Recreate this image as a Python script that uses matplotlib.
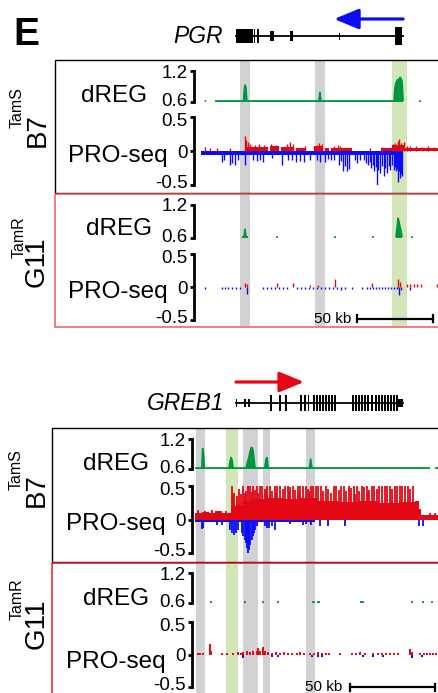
import numpy as np
import matplotlib.pyplot as plt
from matplotlib.transforms import ScaledTranslation

W, H = 439, 693
plt.rcParams['font.family'] = ['Liberation Sans', 'DejaVu Sans']
nan = np.nan

GREEN = '#009640'
RED = '#e30613'
BLUE = '#0b0bf5'
BAND_GRAY = '#d2d2d4'
BAND_GREEN = '#d3e6b9'

# ---------------- PGR locus (kb from left edge of window) ----------------
pgr_xmax = 157.2
pgr_gray = [(26.3, 32.9), (75.7, 82.2)]
pgr_green = [(126.3, 136.2)]
pgr_gene = (23.7, 133.6)
pgr_exons = [(23.7, 34.9), (35.2, 36.2), (37.5, 38.5), (46.1, 48.7),
             (59.2, 60.9), (91.4, 92.1), (128.3, 132.9)]
pgr_exon_kind = ['cds', 'cds', 'cds', 'mid', 'mid', 'small', 'big']
pgr_arrow = (133.6, 88.2)          # tail -> head (minus strand)

pgr_b7_dreg_x = [3.0, 4.0, nan, 9.9, 28.6, 29.2, 29.6, 30.2, 30.8, 78.2, 78.9, 79.6,
                 127.6, 128.3, 129.0, 129.6, 130.3, 131.0, 131.6, 132.3, 132.9, 133.6,
                 nan, 144.3, 145.3]
pgr_b7_dreg_y = [0.62, 0.62, nan, 0.62, 0.62, 0.85, 0.93, 0.88, 0.62, 0.62, 0.79, 0.62,
                 0.62, 0.9, 0.98, 1.02, 1.04, 1.0, 1.08, 1.05, 1.0, 0.62,
                 nan, 0.62, 0.62]
pgr_b7_plus_seg = [(30.9, 45.0, 0.06), (46.0, 52.0, 0.07), (53.0, 62.0, 0.06),
                   (63.0, 70.0, 0.05), (75.0, 80.0, 0.07), (82.0, 85.0, 0.05),
                   (86.0, 92.0, 0.05), (93.0, 100.0, 0.05), (119.0, 126.0, 0.04),
                   (126.3, 134.0, 0.09), (134.0, 157.2, 0.05)]
pgr_b7_plus = [(3.3, 0.06), (6.6, 0.05), (11.2, 0.05), (19.7, 0.05), (29.6, 0.22),
               (30.5, 0.16), (31.5, 0.13), (33.0, 0.1), (36.0, 0.09), (39.0, 0.1),
               (42.0, 0.09), (47.0, 0.1), (50.0, 0.09), (57.0, 0.11), (59.0, 0.13),
               (61.0, 0.1), (69.0, 0.08), (77.0, 0.09), (78.0, 0.12), (80.0, 0.1),
               (88.0, 0.07), (90.5, 0.09), (92.0, 0.08), (112.0, 0.05), (120.0, 0.06),
               (127.0, 0.1), (128.5, 0.12), (130.0, 0.15), (131.2, 0.18), (132.5, 0.12),
               (134.0, 0.13), (136.0, 0.08), (138.0, 0.07), (142.0, 0.07), (146.0, 0.06),
               (150.0, 0.07), (154.0, 0.06)]
pgr_b7_minus_seg = [(0.7, 133.6, -0.065)]
pgr_b7_minus = [(14.5, -0.16), (15.8, -0.13), (19.7, -0.2), (21.1, -0.17), (23.0, -0.2),
                (25.0, -0.13), (29.6, -0.2), (34.9, -0.13), (37.5, -0.14), (39.5, -0.13),
                (41.4, -0.16), (47.4, -0.1), (53.9, -0.2), (57.9, -0.13), (60.5, -0.13),
                (63.2, -0.16), (65.8, -0.14), (68.4, -0.16), (72.4, -0.13), (77.0, -0.13),
                (78.9, -0.16), (82.2, -0.16), (84.5, -0.12), (86.2, -0.13), (88.2, -0.13),
                (91.4, -0.2), (92.5, -0.15), (94.1, -0.3), (95.4, -0.22), (96.7, -0.3),
                (98.0, -0.27), (101.9, -0.13), (103.5, -0.18), (105.3, -0.13), (107.9, -0.13),
                (109.2, -0.18), (110.5, -0.2), (111.5, -0.16), (112.5, -0.25), (113.5, -0.2),
                (114.5, -0.3), (115.5, -0.24), (116.4, -0.52), (117.4, -0.28), (118.4, -0.32),
                (119.6, -0.22), (121.1, -0.37), (122.0, -0.25), (123.0, -0.33), (124.0, -0.22),
                (125.0, -0.28), (126.0, -0.2), (127.6, -0.28), (128.3, -0.24), (128.9, -0.3),
                (129.6, -0.26), (130.3, -0.45), (131.0, -0.3), (131.6, -0.4), (132.3, -0.34),
                (132.9, -0.37)]

pgr_g11_dreg_x = [27.6, 28.9, 29.6, 30.3, 31.6, nan, 50.2, 51.2, nan, 88.3, 89.3, nan,
                  113.3, 114.3, nan, 128.9, 129.6, 130.3, 131.0, 131.6, 132.3, 132.9,
                  nan, 139.0, 140.0]
pgr_g11_dreg_y = [0.62, 0.62, 0.76, 0.62, 0.62, nan, 0.62, 0.62, nan, 0.62, 0.62, nan,
                  0.62, 0.62, nan, 0.62, 0.78, 0.96, 0.88, 0.8, 0.72, 0.62,
                  nan, 0.62, 0.62]
pgr_g11_plus_seg = []
pgr_g11_plus = [(29.6, 0.06), (30.6, 0.05), (50.7, 0.06), (61.2, 0.06), (72.4, 0.03),
                (77.6, 0.03), (88.8, 0.12), (113.2, 0.06), (130.3, 0.12), (131.6, 0.08),
                (136.2, 0.05), (138.2, 0.04), (140.5, 0.05), (143.0, 0.04), (145.4, 0.04),
                (155.9, 0.04)]
pgr_g11_minus_seg = []
pgr_g11_minus = [(3.3, -0.03), (14.5, -0.03), (16.4, -0.03), (18.4, -0.03), (21.0, -0.03),
                 (23.7, -0.03), (26.3, -0.03), (30.9, -0.1), (41.4, -0.03), (44.1, -0.03),
                 (46.7, -0.03), (49.3, -0.03), (52.0, -0.03), (54.6, -0.03), (57.2, -0.03),
                 (63.8, -0.03), (66.4, -0.03), (69.1, -0.03), (71.7, -0.03), (74.3, -0.03),
                 (77.0, -0.03), (79.6, -0.03), (82.2, -0.03), (84.9, -0.03), (87.5, -0.03),
                 (90.1, -0.03), (92.8, -0.05), (95.4, -0.03), (100.0, -0.03), (106.6, -0.03),
                 (109.9, -0.03), (111.8, -0.03), (113.8, -0.03), (115.8, -0.03), (117.8, -0.03),
                 (119.7, -0.03), (121.7, -0.03), (123.7, -0.03), (125.7, -0.03), (127.6, -0.03),
                 (129.6, -0.03), (130.9, -0.12), (132.2, -0.04), (138.2, -0.04)]

# ---------------- GREB1 locus ----------------
grb_xmax = 143.5
grb_gray = [(0.6, 5.9), (28.2, 37.1), (40.0, 44.1), (65.3, 70.6)]
grb_green = [(18.2, 25.3)]
grb_gene = (24.1, 122.4)
grb_exons = [(24.1, 24.7), (29.1, 30.0), (31.2, 32.1), (44.1, 45.3), (49.4, 50.6),
             (52.9, 54.1), (61.8, 62.9), (64.1, 65.3), (66.2, 67.1), (69.4, 70.6),
             (71.2, 72.4), (72.9, 74.1), (74.7, 75.9), (76.5, 77.6), (78.2, 79.4),
             (80.0, 81.2), (81.8, 82.9), (92.4, 93.5), (94.1, 95.3), (95.9, 97.1),
             (97.6, 98.8), (99.4, 100.6), (101.2, 102.4), (103.5, 104.7), (105.9, 107.1),
             (107.6, 108.8), (109.4, 110.6), (111.2, 112.4), (112.9, 114.1), (114.7, 115.9),
             (116.5, 117.6), (118.2, 119.4), (119.4, 122.4)]
grb_exon_kind = ['utr', 'utr', 'utr'] + ['cds'] * 29 + ['utr']
grb_arrow = (24.1, 64.1)           # tail -> head (plus strand)

grb_b7_dreg_x = [0.0, 4.0, 4.5, 5.0, 5.6, 20.0, 20.6, 21.2, 21.8, 22.4, 30.0, 30.6, 31.2,
                 31.8, 32.4, 33.0, 33.5, 34.1, 34.7, 35.3, 41.0, 41.8, 42.4, 43.0, 67.3,
                 68.0, 68.8, 138.2, nan, 141.2, 143.5]
grb_b7_dreg_y = [0.62, 0.62, 1.01, 0.9, 0.62, 0.62, 0.75, 0.83, 0.78, 0.62, 0.62, 0.7, 0.78,
                 0.85, 0.95, 1.02, 1.03, 0.98, 0.8, 0.62, 0.62, 0.8, 0.83, 0.62, 0.62,
                 0.8, 0.62, 0.62, nan, 0.62, 0.62]
grb_b7_plus_seg = [(0.0, 4.0, 0.09), (4.0, 8.0, 0.11), (8.0, 12.0, 0.1), (12.0, 16.0, 0.12),
                   (16.0, 21.2, 0.1), (21.2, 24.0, 0.2), (24.0, 28.0, 0.22), (28.0, 34.0, 0.27),
                   (34.0, 42.0, 0.3), (42.0, 52.0, 0.32), (52.0, 62.0, 0.3), (62.0, 72.0, 0.32),
                   (72.0, 84.0, 0.28), (84.0, 96.0, 0.26), (96.0, 108.0, 0.27),
                   (108.0, 120.0, 0.25), (120.0, 129.4, 0.26), (129.4, 131.8, 0.28),
                   (131.8, 133.0, 0.16), (133.0, 143.5, 0.07)]
grb_b7_plus = [(2.0, 0.14), (6.0, 0.13), (10.0, 0.14), (14.0, 0.13), (18.0, 0.12),
               (21.5, 0.55), (22.3, 0.36), (23.0, 0.4), (24.5, 0.35), (26.0, 0.45), (27.0, 0.38),
               (28.5, 0.6), (29.3, 0.4), (30.0, 0.42), (31.0, 0.6), (32.5, 0.5), (33.3, 0.41),
               (34.0, 0.6), (35.5, 0.44), (36.5, 0.6), (37.3, 0.4), (38.0, 0.5), (39.5, 0.6),
               (41.0, 0.46), (41.8, 0.42), (42.5, 0.6), (44.0, 0.6), (45.5, 0.42), (47.0, 0.6),
               (47.8, 0.4), (48.5, 0.5), (50.0, 0.6), (51.5, 0.45), (53.0, 0.6), (54.5, 0.6),
               (55.3, 0.42), (56.0, 0.48), (57.5, 0.6), (59.0, 0.44), (60.5, 0.6), (61.3, 0.4),
               (62.0, 0.6), (63.5, 0.5), (65.0, 0.6), (66.5, 0.46), (67.3, 0.42), (68.0, 0.6),
               (69.5, 0.6), (71.0, 0.6), (72.5, 0.6), (74.0, 0.55), (75.5, 0.42), (77.0, 0.6),
               (78.5, 0.45), (80.0, 0.4), (81.5, 0.6), (83.0, 0.6), (84.5, 0.44), (86.0, 0.5),
               (87.5, 0.6), (89.0, 0.42), (90.5, 0.6), (92.0, 0.47), (93.5, 0.6), (94.3, 0.38),
               (95.0, 0.6), (96.5, 0.43), (98.0, 0.6), (99.5, 0.48), (101.0, 0.6), (101.8, 0.4),
               (102.5, 0.44), (104.0, 0.6), (105.5, 0.6), (107.0, 0.45), (108.5, 0.6),
               (110.0, 0.6), (111.5, 0.5), (113.0, 0.6), (114.5, 0.6), (116.0, 0.46),
               (117.5, 0.6), (119.0, 0.6), (120.5, 0.6), (122.0, 0.5), (123.5, 0.6),
               (125.0, 0.6), (126.5, 0.45), (128.0, 0.6), (138.5, 0.1), (141.0, 0.09)]
grb_b7_minus_seg = [(0.0, 70.6, -0.035)]
grb_b7_minus = [(4.1, -0.14), (4.7, -0.12), (12.9, -0.08), (15.9, -0.08), (20.6, -0.15),
                (21.8, -0.2), (22.9, -0.23), (24.1, -0.2), (25.3, -0.15), (27.6, -0.2),
                (28.2, -0.25), (29.4, -0.3), (30.0, -0.35), (30.6, -0.42), (31.2, -0.5),
                (31.8, -0.45), (32.4, -0.38), (33.5, -0.3), (34.1, -0.25), (34.7, -0.2),
                (35.3, -0.15), (36.5, -0.1), (41.2, -0.1), (42.4, -0.13), (43.5, -0.12),
                (45.3, -0.1), (47.1, -0.15), (55.9, -0.06), (63.5, -0.08), (65.3, -0.07),
                (68.2, -0.08), (73.5, -0.1), (78.2, -0.1), (88.2, -0.1), (131.8, -0.1),
                (134.1, -0.1)]

grb_g11_dreg_x = [9.0, 9.8, nan, 29.0, 29.8, nan, 39.6, 40.4, nan, 48.4, 49.2, nan,
                  68.6, 70.4, nan, 71.8, 73.4, nan, 97.0, 99.4, nan, 127.2, 128.0, nan,
                  133.7, 134.5, nan, 139.0, 139.8]
grb_g11_dreg_y = [0.62, 0.62, nan, 0.62, 0.62, nan, 0.62, 0.62, nan, 0.62, 0.62, nan,
                  0.62, 0.62, nan, 0.62, 0.62, nan, 0.62, 0.62, nan, 0.62, 0.62, nan,
                  0.62, 0.62, nan, 0.62, 0.62]
grb_g11_plus_seg = []
grb_g11_plus = [(1.8, 0.03), (2.9, 0.03), (4.7, 0.03), (8.8, 0.16), (9.7, 0.05), (15.9, 0.03),
                (18.8, 0.03), (22.4, 0.03), (25.3, 0.04), (27.0, 0.03), (28.2, 0.04),
                (30.6, 0.05), (32.4, 0.04), (34.1, 0.05), (36.5, 0.06), (37.1, 0.1),
                (38.2, 0.06), (40.0, 0.12), (41.2, 0.05), (42.9, 0.04), (45.3, 0.03),
                (47.6, 0.04), (50.0, 0.03), (52.4, 0.04), (54.7, 0.03), (57.1, 0.03),
                (60.0, 0.03), (61.8, 0.04), (64.1, 0.03), (67.6, 0.03), (70.0, 0.03),
                (72.4, 0.04), (74.7, 0.03), (77.1, 0.03), (78.8, 0.03), (85.3, 0.03),
                (92.4, 0.03), (94.7, 0.03), (97.1, 0.04), (100.0, 0.03), (104.7, 0.03),
                (107.6, 0.03), (110.0, 0.03), (112.4, 0.03), (114.7, 0.03), (117.1, 0.03),
                (119.4, 0.03), (126.5, 0.08), (127.6, 0.04), (132.4, 0.03), (134.7, 0.03),
                (136.5, 0.03), (138.2, 0.03), (140.0, 0.03), (141.8, 0.03), (143.3, 0.03)]
grb_g11_minus_seg = []
grb_g11_minus = [(28.2, -0.05), (45.3, -0.04), (48.8, -0.04), (68.8, -0.04), (72.4, -0.04),
                 (74.7, -0.04), (98.8, -0.04), (104.7, -0.04), (110.6, -0.04), (127.6, -0.05),
                 (133.5, -0.04)]


def rect(x0, y0, x1, y1):
    return [x0 / W, 1 - y1 / H, (x1 - x0) / W, (y1 - y0) / H]


# nudge of a few tick labels (points, up is positive) so they clear each other
label_shift = {'0.6': 1.8, '0.5': -1.6, '-0.5': 2.2}


def track_axes(fig, box, xmax, lo, hi, ticks, labels, outward):
    ax = fig.add_axes(rect(*box))
    ax.set_xlim(0, xmax)
    ax.set_ylim(lo, hi)
    ax.patch.set_alpha(0)
    for s in ['top', 'right', 'bottom']:
        ax.spines[s].set_visible(False)
    ax.spines['left'].set_linewidth(2.0)
    ax.spines['left'].set_position(('outward', outward))
    ax.set_xticks([])
    ax.set_yticks(ticks, labels)
    ax.tick_params(axis='y', length=3, width=2.0, pad=1.5, labelsize=13.5)
    for t in ax.get_yticklabels():
        dy = label_shift.get(t.get_text(), 0)
        if dy:
            t.set_transform(t.get_transform() + ScaledTranslation(0, dy / 72, fig.dpi_scale_trans))
    return ax


def draw_dreg(ax, x, y):
    x = np.array(x)
    y = np.array(y)
    ax.fill_between(x, 0.6, y, color=GREEN, lw=0)
    ax.plot(x, y, color=GREEN, lw=1.2, solid_capstyle='butt')


def draw_pro(ax, plus_seg, plus, minus_seg, minus, lw=1.0):
    for segs, col in [(minus_seg, BLUE), (plus_seg, RED)]:
        for a, b, v in segs:
            ax.bar(a, v, width=b - a, align='edge', color=col, lw=0)
    for pts, col in [(minus, BLUE), (plus, RED)]:
        if pts:
            p = np.array(pts)
            ax.vlines(p[:, 0], 0, p[:, 1], colors=col, lw=lw)


def draw_gene(ax, gene, exons, kinds, heights, yline, arrow, acol, ayy):
    ax.plot(gene, [yline, yline], color='k', lw=1.3)
    for (a, b), k in zip(exons, kinds):
        h = heights[k]
        ax.bar(a, h, width=b - a, bottom=yline - h / 2, align='edge', color='k', lw=0)
    ax.annotate('', xy=(arrow[1], ayy), xytext=(arrow[0], ayy),
                arrowprops=dict(arrowstyle='-|>,head_length=1.5,head_width=0.62',
                                color=acol, lw=2.3, shrinkA=0, shrinkB=0,
                                mutation_scale=10))


def draw_bands(ax, gray, green):
    for a, b in gray:
        ax.axvspan(a, b, color=BAND_GRAY, lw=0)
    for a, b in green:
        ax.axvspan(a, b, color=BAND_GREEN, lw=0)


def scale_bar(ax, x0, y, text_x, text_y):
    ax.plot([x0, x0 + 50], [y, y], color='k', lw=1.6)
    for xx in (x0, x0 + 50):
        ax.plot([xx, xx], [y - 3.5, y + 3.5], color='k', lw=1.6)
    ax.text(text_x, text_y, '50 kb', fontsize=11, ha='right', va='baseline')


fig = plt.figure(figsize=(W / 100, H / 100), dpi=100)

# ---- background bands ----
bp = fig.add_axes(rect(200, 60, 439, 326.5))
bp.set_xlim(0, pgr_xmax)
bp.set_ylim(326.5, 60)
bp.axis('off')
draw_bands(bp, pgr_gray, pgr_green)
scale_bar(bp, 103.3, 319, 99.6, 323)

bg = fig.add_axes(rect(195, 428, 439, 693))
bg.set_xlim(0, grb_xmax)
bg.set_ylim(693, 428)
bg.axis('off')
draw_bands(bg, grb_gray, grb_green)
scale_bar(bg, 91.2, 687, 86.8, 691)

# ---- gene models ----
gp = fig.add_axes(rect(200, 5, 439, 52))
gp.set_xlim(0, pgr_xmax)
gp.set_ylim(52, 5)
gp.axis('off')
draw_gene(gp, pgr_gene, pgr_exons, pgr_exon_kind,
          {'big': 18, 'cds': 14, 'mid': 10, 'small': 7}, 36, pgr_arrow, BLUE, 19)

gg = fig.add_axes(rect(195, 368, 439, 420))
gg.set_xlim(0, grb_xmax)
gg.set_ylim(420, 368)
gg.axis('off')
draw_gene(gg, grb_gene, grb_exons, grb_exon_kind, {'cds': 16, 'utr': 8}, 403,
          grb_arrow, RED, 382)

# ---- tracks ----
pro_t = [-0.5, 0, 0.5]
pro_l = ['-0.5', '0', '0.5']
dr_t = [0.6, 1.2]
dr_l = ['0.6', '1.2']

a = track_axes(fig, (200, 71, 439, 102), pgr_xmax, 0.6, 1.2, dr_t, dr_l, 4.3)
draw_dreg(a, pgr_b7_dreg_x, pgr_b7_dreg_y)
a = track_axes(fig, (200, 117, 439, 185), pgr_xmax, -0.5, 0.5, pro_t, pro_l, 4.3)
draw_pro(a, pgr_b7_plus_seg, pgr_b7_plus, pgr_b7_minus_seg, pgr_b7_minus)
a = track_axes(fig, (200, 205, 439, 238), pgr_xmax, 0.6, 1.2, dr_t, dr_l, 4.3)
draw_dreg(a, pgr_g11_dreg_x, pgr_g11_dreg_y)
a = track_axes(fig, (200, 254, 439, 320), pgr_xmax, -0.5, 0.5, pro_t, pro_l, 4.3)
draw_pro(a, pgr_g11_plus_seg, pgr_g11_plus, pgr_g11_minus_seg, pgr_g11_minus)

a = track_axes(fig, (195, 439, 439, 469), grb_xmax, 0.6, 1.2, dr_t, dr_l, 2.2)
draw_dreg(a, grb_b7_dreg_x, grb_b7_dreg_y)
a = track_axes(fig, (195, 486, 439, 553), grb_xmax, -0.5, 0.5, pro_t, pro_l, 2.2)
draw_pro(a, grb_b7_plus_seg, grb_b7_plus, grb_b7_minus_seg, grb_b7_minus, lw=1.3)
a = track_axes(fig, (195, 573, 439, 603), grb_xmax, 0.6, 1.2, dr_t, dr_l, 2.2)
draw_dreg(a, grb_g11_dreg_x, grb_g11_dreg_y)
a = track_axes(fig, (195, 622, 439, 687), grb_xmax, -0.5, 0.5, pro_t, pro_l, 2.2)
draw_pro(a, grb_g11_plus_seg, grb_g11_plus, grb_g11_minus_seg, grb_g11_minus, lw=1.4)

# ---- overlay: boxes and labels ----
ov = fig.add_axes([0, 0, 1, 1])
ov.set_xlim(0, W)
ov.set_ylim(H, 0)
ov.axis('off')
ov.add_patch(plt.Rectangle((55, 60), 400, 132.5, fill=False, ec='k', lw=1.0))
ov.add_patch(plt.Rectangle((55, 194), 400, 132.5, fill=False, ec='#f05a5a', lw=1.1))
ov.add_patch(plt.Rectangle((52, 428), 400, 133.5, fill=False, ec='k', lw=1.0))
ov.add_patch(plt.Rectangle((52, 563), 400, 140, fill=False, ec='#e41e26', lw=1.1))

ov.text(13, 45, 'E', fontsize=28, fontweight='bold', ha='left', va='baseline')
ov.text(223, 43, 'PGR', fontsize=16.5, style='italic', ha='right', va='baseline')
ov.text(224, 410, 'GREB1', fontsize=16.5, style='italic', ha='right', va='baseline')

for cx, cy, cx2, cy2, sup, name in [(17, 108, 38, 130, 'TamS', 'B7'),
                                    (19, 237, 37, 262, 'TamR', 'G11'),
                                    (16, 470, 37, 490, 'TamS', 'B7'),
                                    (17, 599, 37, 624, 'TamR', 'G11')]:
    ov.text(cx, cy, sup, fontsize=11.5, rotation=90, ha='center', va='center')
    ov.text(cx2, cy2, name, fontsize=20, rotation=90, ha='center', va='center')

for xr, yb, lab in [(147, 102, 'dREG'), (168, 162, 'PRO-seq'),
                    (152, 235, 'dREG'), (168, 298, 'PRO-seq'),
                    (149, 470, 'dREG'), (166, 530, 'PRO-seq'),
                    (149, 605, 'dREG'), (166, 668, 'PRO-seq')]:
    ov.text(xr, yb, lab, fontsize=17.5, ha='right', va='baseline')

fig.savefig('out.png', dpi=100)
